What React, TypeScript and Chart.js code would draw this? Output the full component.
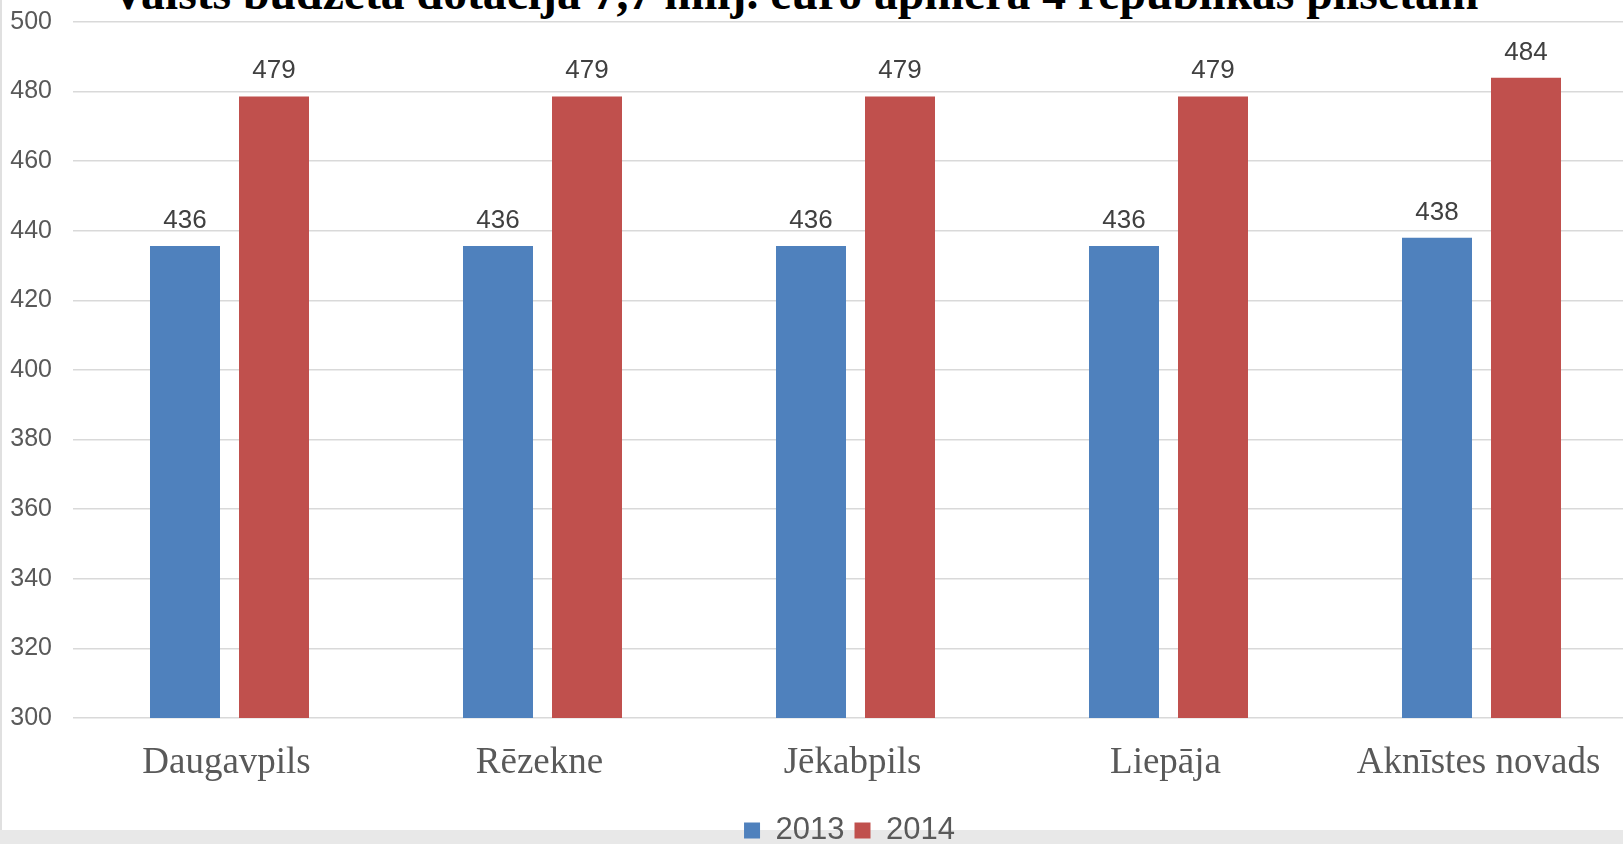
import React, { useEffect, useRef } from "react";
import { Chart, registerables } from "chart.js";

Chart.register(...registerables);

const titleText = "Valsts budžeta dotācija 7,7 milj. euro apmērā 4 republikas pilsētām";
const categories = ["Daugavpils", "Rēzekne", "Jēkabpils", "Liepāja", "Aknīstes novads"];
const seriesNames = ["2013", "2014"];
const values2013 = [435.6, 435.6, 435.6, 435.6, 438];
const values2014 = [478.6, 478.6, 478.6, 478.6, 484];
const yMin = 300;
const yMax = 500;
const yStep = 20;
const seriesColors = ["#4f81bd", "#c0504d"];

const valueLabelPlugin = {
  id: "valueLabels",
  afterDatasetsDraw(chart: any) {
    const ctx = chart.ctx;
    ctx.save();
    ctx.font = "26px 'Liberation Sans', Arial, sans-serif";
    ctx.fillStyle = "#404040";
    ctx.textAlign = "center";
    ctx.textBaseline = "alphabetic";
    chart.data.datasets.forEach((ds: any, i: number) => {
      const meta = chart.getDatasetMeta(i);
      meta.data.forEach((el: any, j: number) => {
        const v = ds.data[j];
        ctx.fillText(String(Math.round(v)), el.x, el.y - 18);
      });
    });
    ctx.restore();
  },
};

export default function App() {
  const ref = useRef<HTMLCanvasElement>(null);

  useEffect(() => {
    if (!ref.current) return;
    const chart = new Chart(ref.current, {
      type: "bar",
      data: {
        labels: categories,
        datasets: [
          {
            label: seriesNames[0],
            data: values2013,
            backgroundColor: seriesColors[0],
            categoryPercentage: 0.5687,
            barPercentage: 0.7865,
          },
          {
            label: seriesNames[1],
            data: values2014,
            backgroundColor: seriesColors[1],
            categoryPercentage: 0.5687,
            barPercentage: 0.7865,
          },
        ],
      },
      options: {
        responsive: false,
        animation: false,
        layout: { padding: { top: 22, left: 0, right: 0, bottom: 0 } },
        plugins: {
          title: { display: false },
          tooltip: { enabled: false },
          legend: {
            position: "bottom",
            labels: {
              boxWidth: 16,
              boxHeight: 16,
              padding: 10,
              color: "#595959",
              font: { family: "'Liberation Sans', Arial, sans-serif", size: 31 },
            },
          },
        },
        scales: {
          x: {
            grid: { display: false, drawTicks: false },
            border: { display: false },
            ticks: {
              color: "#595959",
              padding: 23,
              labelOffset: -3,
              font: { family: "'Liberation Serif', 'Times New Roman', serif", size: 37 },
              maxRotation: 0,
              autoSkip: false,
            },
            afterFit(scale: any) {
              scale.height = 87;
            },
          },
          y: {
            min: yMin,
            max: yMax,
            grid: { color: "#d9d9d9", lineWidth: 1.5, drawTicks: false },
            border: { display: false },
            ticks: {
              stepSize: yStep,
              color: "#595959",
              padding: 21,
              font: { family: "'Liberation Sans', Arial, sans-serif", size: 25 },
            },
            afterFit(scale: any) {
              scale.width = 73;
              scale.paddingTop = 0;
              scale.paddingBottom = 0;
            },
          },
          yRight: {
            type: "linear",
            position: "right",
            display: true,
            grid: { display: false, drawTicks: false },
            border: { display: false },
            ticks: { display: false },
            afterFit(scale: any) {
              scale.width = 61;
              scale.paddingTop = 0;
              scale.paddingBottom = 0;
            },
          },
        },
      },
      plugins: [valueLabelPlugin],
    });
    return () => chart.destroy();
  }, []);

  return (
    <div
      style={{
        position: "absolute",
        left: 0,
        top: 0,
        width: 1623,
        height: 844,
        overflow: "hidden",
        background: "#e8e8e8",
      }}
    >
      <div
        style={{
          position: "absolute",
          left: 0,
          top: 0,
          width: 1623,
          height: 830,
          background: "#ffffff",
          borderLeft: "2px solid #e0e0e0",
          boxSizing: "border-box",
        }}
      />
      <div
        style={{
          position: "absolute",
          left: 111,
          top: -31,
          whiteSpace: "nowrap",
          font: "bold 47.7px 'Liberation Serif', 'Times New Roman', serif",
          lineHeight: "48px",
          color: "#000000",
        }}
      >
        {titleText}
      </div>
      <canvas
        ref={ref}
        width={1699}
        height={856}
        style={{ position: "absolute", left: 0, top: 0 }}
      />
    </div>
  );
}
